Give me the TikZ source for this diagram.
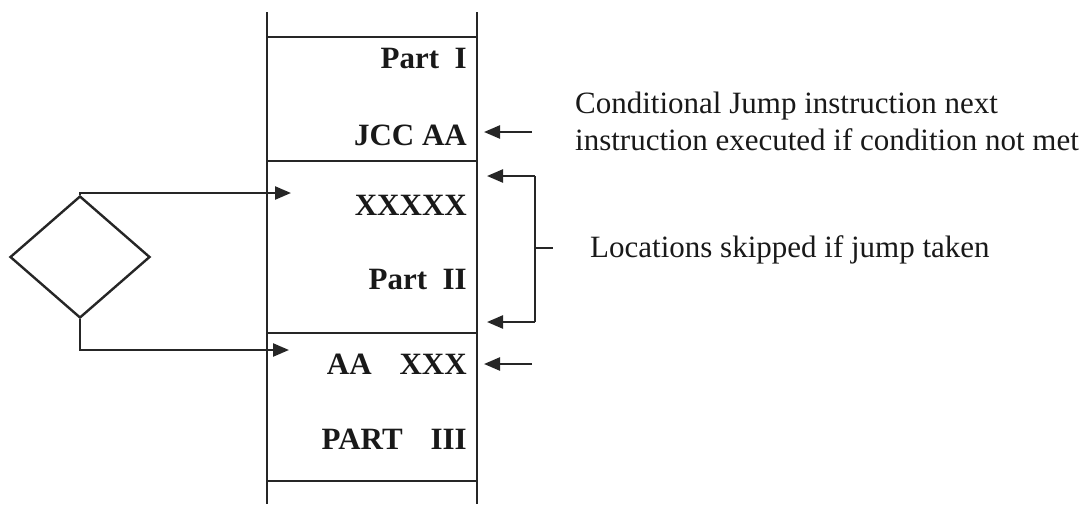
\documentclass[tikz,border=0pt]{standalone}
\usepackage{fontspec}
\setmainfont{Liberation Serif}
\usetikzlibrary{arrows.meta,shapes.geometric}
\begin{document}
\begin{tikzpicture}[x=1pt,y=-1pt,
  ln/.style={line width=2.4pt,draw=black!85},
  arr/.style={ln,-{Triangle[length=16pt,width=13pt]}},
  cell/.style={font=\bfseries\fontsize{31}{31}\selectfont,anchor=base east,inner sep=0pt,text=black!90},
  lab/.style={font=\fontsize{31}{33}\selectfont,anchor=base west,inner sep=0pt,text=black!90,align=left}]
\useasboundingbox (0,0) rectangle (1088,504);
% memory column
\coordinate (tl) at (267,12); \coordinate (bl) at (267,504);
\coordinate (tr) at (477,12); \coordinate (br) at (477,504);
\draw[ln] (tl) -- (bl);
\draw[ln] (tr) -- (br);
\draw[ln] (267,37) coordinate (h1l) -- (477,37) coordinate (h1r);
\draw[ln] (267,161) coordinate (h2l) -- (477,161) coordinate (h2r);
\draw[ln] (267,333) coordinate (h3l) -- (477,333) coordinate (h3r);
\draw[ln] (267,481) coordinate (h4l) -- (477,481) coordinate (h4r);
% cell texts
\node[cell] (p1) at (467,68) {Part\hspace{0.5em}I};
\node[cell] (jcc) at (467,145) {JCC AA};
\node[cell] (x5) at (467,215) {XXXXX};
\node[cell] (p2) at (467,289) {Part\hspace{0.5em}II};
\node[cell] (aa) at (467,374) {AA\hspace{0.9em}XXX};
\node[cell] (p3) at (467,449) {PART\hspace{0.9em}III};
% diamond
\node[diamond,ln,minimum width=140pt,minimum height=122pt,inner sep=0pt] (d) at (80,257) {};
% branch arrows
\coordinate (t1) at (291,193);
\coordinate (t2) at (289,350);
\draw[arr] (d.north) -- (d.north |- t1) -- (t1);
\draw[arr] (d.south) -- (d.south |- t2) -- (t2);
% right-side annotations
\coordinate (a1s) at (532,132); \coordinate (a1e) at (484,132);
\draw[arr] (a1s) -- (a1e);
\coordinate (a2s) at (532,364); \coordinate (a2e) at (484,364);
\draw[arr] (a2s) -- (a2e);
\coordinate (bt) at (487,176); \coordinate (bb) at (487,322);
\draw[arr] (535,176) -- (bt);
\draw[arr] (535,322) -- (bb);
\draw[ln] (535,176) -- (535,322);
\draw[ln] (535,248) -- (553,248) coordinate (tick);
\node[lab] (c1) at (575,113) {Conditional Jump instruction next};
\node[lab] (c2) at (575,150) {instruction executed if condition not met};
\node[lab] (loc) at (590,257) {Locations skipped if jump taken};
\end{tikzpicture}
\end{document}
